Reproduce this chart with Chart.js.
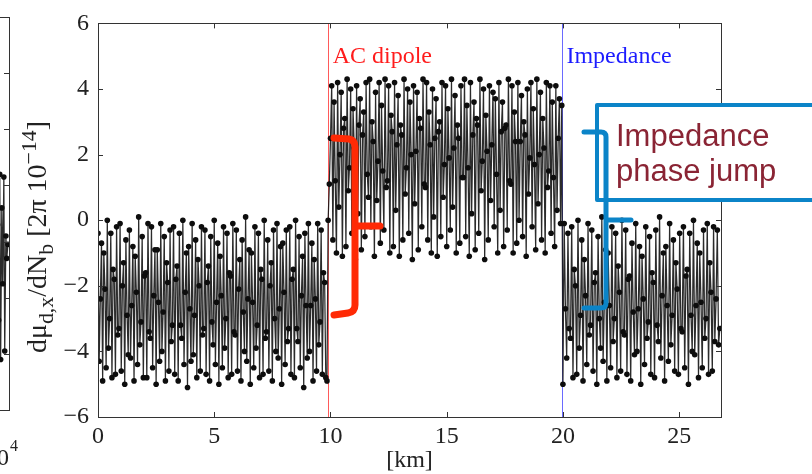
<!DOCTYPE html>
<html>
<head>
<meta charset="utf-8">
<script src="https://cdn.jsdelivr.net/npm/chart.js@4.4.1/dist/chart.umd.min.js"></script>
<style>
  html, body { margin: 0; padding: 0; background: #fff; overflow: hidden; }
  #wrap { position: relative; width: 812px; height: 474px; overflow: hidden; }
  #main { position: absolute; left: 0; top: 0; }
  #side { position: absolute; left: -287px; top: 0; }
</style>
</head>
<body>
<div id="wrap">
  <canvas id="main" width="812" height="474"></canvas>
  <canvas id="side" width="300" height="474"></canvas>
</div>
<script>
// phase advance per bunch intensity, three stretches along the store [km]
const seg1Km = [0, 9.85];
const seg1Y = [
  -0.4, -4.3, -2.4, -0.7, -4.9, -1.0, -2.1, -4.5, 0.0, -3.9, -3.0, -0.4, -4.8, -1.5, -1.8, -4.7, -0.2, -3.5,
  -3.3, -0.1, -4.6, -2.0, -1.3, -5.0, -0.6, -2.9, -4.1, -0.3, -4.2, -2.6, -0.8, -4.9, -1.1, -2.2, -4.4, 0.1,
  -3.8, -3.1, -0.5, -4.8, -1.7, -1.6, -4.8, -0.1, -3.4, -3.6, -0.2, -4.5, -2.3, -0.9, -5.0, -0.9, -2.5, -4.3,
  -0.1, -4.0, -2.8, -0.5, -4.9, -1.3, -1.9, -4.6, -0.3, -3.7, -3.2, -0.2, -4.7, -1.8, -1.4, -4.9, -0.4, -3.2,
  -3.6, 0.0, -4.4, -2.2, -1.0, -5.1, -0.8, -2.7, -4.3, -0.1, -4.1, -2.9, -0.6, -4.8, -1.2, -2.0, -4.6, -0.2,
  -3.5, -3.3, -0.3, -4.7, -1.9, -1.4, -4.9, -0.5, -3.1, -3.8, 0.0, -4.4, -2.5, -0.7, -5.0, -1.1, -2.3, -4.5,
  -0.2, -3.9, -3.0, -0.4, -4.8, -1.6, -1.7, -4.7, -0.1, -3.4, -3.5, -0.3, -4.6, -2.1, -1.2, -4.9, -0.6, -2.8,
  -4.0, 0.1, -4.3, -2.4, -0.9, -5.0, -1.0, -2.5, -4.5, -0.2, -3.9, -3.2, -0.4, -4.8, -1.5, -1.8, -4.7, 0.0,
  -3.6, -3.4, -0.6, -4.6, -2.0, -1.3, -4.9, -0.3, -3.0, -4.0, -0.1, -4.2, -2.7, -0.8, -5.0, -0.7, -2.2, -4.4,
  -0.3, -3.7, -3.3, -0.2, -4.7, -1.8, -1.5, -4.8, 0.0, -3.3, -3.7, -0.5, -4.5, -2.3, -1.1, -5.1, -0.4, -2.6,
  -4.2, -0.1, -4.0, -2.6, -0.7, -4.9, -1.2, -2.4, -4.6, -0.1, -3.8, -3.1, -0.3, -4.7, -1.6, -1.9, -4.8, -4.9
];
const seg2Km = [9.9, 19.95];
const seg2Y = [
  0.0, 1.1, 2.5, 4.1, -0.6, 3.6, 1.2, -1.0, 4.2, 0.4, 2.0, 3.9, -1.1, 2.8, 3.1, -0.8, 4.3, 0.9,
  1.6, 4.0, -0.4, 3.4, 2.2, -1.2, 4.1, 0.2, 2.9, 3.7, -0.9, 2.6, 3.3, -0.5, 4.2, 1.4, 0.7, 4.3,
  -0.2, 3.0, 2.4, -1.1, 3.9, 0.6, 1.8, 4.2, -0.7, 3.5, 1.5, -0.3, 4.3, 1.0, 1.2, 4.1, -1.0, 3.2,
  2.7, -0.8, 4.2, 0.3, 2.3, 3.8, -1.1, 2.9, 2.6, -0.6, 4.3, 0.8, 1.6, 4.0, -0.4, 3.6, 2.0, -1.2,
  4.1, 0.5, 2.1, 3.9, -0.9, 3.1, 2.8, -0.2, 4.3, 1.1, 1.0, 4.2, -0.6, 3.3, 2.3, -1.0, 4.0, 0.1,
  2.5, 3.7, -1.1, 2.7, 3.0, -0.5, 4.2, 0.7, 1.7, 4.1, -0.8, 3.4, 1.9, -0.3, 4.3, 0.4, 2.2, 3.8,
  -1.0, 2.9, 2.5, -0.7, 4.1, 1.3, 1.3, 4.3, -0.5, 3.5, 1.6, -1.1, 4.2, 0.2, 2.6, 3.6, -0.9, 3.1,
  2.9, -0.4, 4.3, 0.9, 1.8, 4.0, -1.2, 3.2, 2.1, -0.6, 4.1, 0.6, 2.3, 3.9, -0.2, 3.7, 1.4, -1.0,
  4.2, 0.3, 2.7, 3.6, -0.8, 2.8, 2.9, -0.3, 4.3, 1.2, 1.1, 4.1, -1.0, 3.3, 2.4, -0.7, 4.2, 0.0,
  2.4, 3.8, -0.5, 3.0, 2.6, -1.1, 4.0, 0.8, 1.9, 4.2, -0.2, 3.4, 1.7, -0.9, 4.3, 0.5, 2.0, 3.9,
  -0.6, 3.1, 2.2, -1.0, 4.2, 1.0, 1.5, 4.1, -0.4, 3.6, 1.3, -0.8, 4.1, 0.3, 2.5, 3.7, -0.1, 3.5
];
const seg3Km = [20.0, 26.75];
const seg3Y = [
  -5.0, -0.1, -2.7, -4.2, -0.4, -3.3, -3.6, -0.2, -4.8, -1.5, -2.0, -4.7, 0.0, -3.9, -2.9, -0.6, -4.9, -1.2,
  -2.3, -4.4, -0.1, -3.5, -3.2, -0.3, -4.6, -1.9, -1.6, -5.0, -0.5, -3.0, -3.9, 0.1, -4.3, -2.5, -0.9, -4.9,
  -1.0, -2.6, -4.5, -0.2, -3.7, -3.0, -0.4, -4.8, -1.4, -2.2, -4.6, 0.0, -3.4, -3.5, -0.3, -4.7, -1.8, -1.7,
  -4.9, -0.7, -2.8, -4.1, -0.1, -4.0, -2.7, -0.8, -5.0, -1.1, -2.4, -4.4, -0.2, -3.6, -3.1, -0.5, -4.7, -1.6,
  -1.9, -4.8, -0.3, -3.2, -3.7, 0.1, -4.2, -2.3, -1.0, -4.9, -0.8, -2.6, -4.3, -0.1, -3.8, -2.9, -0.6, -4.6,
  -1.3, -2.1, -4.7, -0.4, -3.3, -3.4, -0.2, -4.5, -1.7, -1.5, -5.0, -0.4, -2.9, -4.0, 0.0, -4.1, -2.6, -0.7,
  -4.8, -1.0, -2.5, -4.5, -0.3, -3.6, -3.0, -0.1, -4.7, -1.3, -2.2, -4.6, -0.2, -3.7, -2.4, -0.3, -3.8, -3.3
];
const xTicks = [0, 5, 10, 15, 20, 25];
const yTicks = [-6, -4, -2, 0, 2, 4, 6];
const acDipoleKm = 9.88;
const impedanceKm = 19.98;

// right edge of the neighbouring panel (turn number, x10^4)
const sideX = [2.850, 2.862, 2.871, 2.883, 2.893, 2.905, 2.914, 2.926, 2.935, 2.947, 2.956, 2.968, 2.977, 2.989];
const sideY = [-3.6, 1.9, -4.1, 0.6, -2.8, 2.4, -4.2, 1.2, -1.5, 2.3, -3.9, 0.2, -0.6, -0.1];
const sideYTicks = [-6, -4, -2, 0, 2, 4, 6, 8];

function spread(range, ys) {
  const step = (range[1] - range[0]) / (ys.length - 1);
  return ys.map((y, i) => ({ x: range[0] + i * step, y: y }));
}
const points = spread(seg1Km, seg1Y).concat(spread(seg2Km, seg2Y), spread(seg3Km, seg3Y));

const serif = 'Liberation Serif';
Chart.defaults.font.family = serif;

// axes box with inward ticks, matlab style
const framePlugin = {
  id: 'frame',
  afterDatasetsDraw(chart, args, opts) {
    const ctx = chart.ctx, a = chart.chartArea;
    const xs = chart.scales.x, ys = chart.scales.y;
    ctx.save();
    ctx.strokeStyle = '#333';
    ctx.lineWidth = 1;
    ctx.strokeRect(Math.round(a.left) + 0.5, Math.round(a.top) + 0.5,
      Math.round(a.right - a.left), Math.round(a.bottom - a.top));
    const len = 5;
    ctx.beginPath();
    opts.xTicks.forEach(v => {
      const p = Math.round(xs.getPixelForValue(v)) + 0.5;
      ctx.moveTo(p, a.bottom); ctx.lineTo(p, a.bottom - len);
      ctx.moveTo(p, a.top); ctx.lineTo(p, a.top + len);
    });
    opts.yTicks.forEach(v => {
      const p = Math.round(ys.getPixelForValue(v)) + 0.5;
      ctx.moveTo(a.left, p); ctx.lineTo(a.left + len, p);
      ctx.moveTo(a.right, p); ctx.lineTo(a.right - len, p);
    });
    ctx.stroke();
    ctx.restore();
  }
};

function richWidth(ctx, parts, size, small) {
  let w = 0;
  parts.forEach(p => {
    ctx.font = ((p.sub || p.sup) ? size * small : size) + 'px "' + serif + '"';
    w += ctx.measureText(p.t).width;
  });
  return w;
}

const notesPlugin = {
  id: 'notes',
  beforeDatasetsDraw(chart) {
    const ctx = chart.ctx, a = chart.chartArea, xs = chart.scales.x;
    ctx.save();
    ctx.lineWidth = 1;
    let p = Math.round(xs.getPixelForValue(acDipoleKm)) + 0.5;
    ctx.strokeStyle = '#ff5a5a';
    ctx.beginPath(); ctx.moveTo(p, a.top); ctx.lineTo(p, a.bottom); ctx.stroke();
    p = Math.round(xs.getPixelForValue(impedanceKm)) + 0.5;
    ctx.strokeStyle = '#6a6aff';
    ctx.beginPath(); ctx.moveTo(p, a.top); ctx.lineTo(p, a.bottom); ctx.stroke();
    ctx.restore();
  },
  afterDraw(chart) {
    const ctx = chart.ctx, a = chart.chartArea, xs = chart.scales.x;
    const f = s => s + 'px "' + serif + '"';
    ctx.save();
    // line labels
    ctx.font = f(24);
    ctx.textBaseline = 'alphabetic';
    ctx.fillStyle = '#ff1c1c';
    ctx.fillText('AC dipole', xs.getPixelForValue(acDipoleKm) + 5, 63);
    ctx.fillStyle = '#1c1cff';
    ctx.fillText('Impedance', xs.getPixelForValue(impedanceKm) + 4, 63);

    // x title
    ctx.fillStyle = '#222';
    ctx.textAlign = 'center';
    ctx.fillText('[km]', (a.left + a.right) / 2, 467);

    // y title, rotated, with sub/superscripts
    const parts = [
      { t: 'dμ' }, { t: 'd,x', sub: true }, { t: '/dN' }, { t: 'b', sub: true },
      { t: ' [2π 10' }, { t: '−14', sup: true }, { t: ']' }
    ];
    const size = 28, small = 0.78;
    const total = richWidth(ctx, parts, size, small);
    ctx.save();
    ctx.translate(46, 237 + total / 2);
    ctx.rotate(-Math.PI / 2);
    ctx.textAlign = 'left';
    let cx = 0;
    parts.forEach(q => {
      ctx.font = f((q.sub || q.sup) ? size * small : size);
      const dy = q.sub ? size * 0.24 : (q.sup ? -size * 0.36 : 0);
      ctx.fillText(q.t, cx, dy);
      cx += ctx.measureText(q.t).width;
    });
    ctx.restore();

    // exponent of the neighbouring panel's x axis
    ctx.textAlign = 'right';
    ctx.font = f(24);
    ctx.fillText('10', 9, 465);
    ctx.textAlign = 'left';
    ctx.font = f(16);
    ctx.fillText('4', 10, 451);

    // red bracket
    ctx.lineCap = 'round';
    ctx.lineJoin = 'round';
    ctx.strokeStyle = '#ff2a05';
    ctx.lineWidth = 7;
    ctx.beginPath();
    ctx.moveTo(334, 138);
    ctx.lineTo(349, 139);
    ctx.quadraticCurveTo(355, 140, 355, 147);
    ctx.lineTo(355, 305);
    ctx.quadraticCurveTo(355, 312, 348, 313);
    ctx.lineTo(334, 315);
    ctx.moveTo(355, 226);
    ctx.lineTo(380, 226);
    ctx.stroke();

    // callout box
    ctx.lineCap = 'butt';
    ctx.strokeStyle = '#0b84c8';
    ctx.lineWidth = 4;
    ctx.fillStyle = '#fff';
    ctx.fillRect(597, 105, 240, 95);
    ctx.strokeRect(597, 105, 240, 95);

    // blue bracket
    ctx.lineCap = 'round';
    ctx.lineWidth = 5;
    ctx.beginPath();
    ctx.moveTo(584, 132);
    ctx.lineTo(601, 132);
    ctx.quadraticCurveTo(606, 132, 606, 137);
    ctx.lineTo(606, 303);
    ctx.quadraticCurveTo(606, 308, 601, 308);
    ctx.lineTo(584, 308);
    ctx.moveTo(606, 220);
    ctx.lineTo(631, 220);
    ctx.stroke();

    ctx.fillStyle = '#8a2434';
    ctx.font = '31px "Liberation Sans", Arial, sans-serif';
    ctx.textAlign = 'left';
    ctx.fillText('Impedance', 616, 146);
    ctx.fillText('phase jump', 616, 181);
    ctx.restore();
  }
};

new Chart(document.getElementById('main').getContext('2d'), {
  type: 'line',
  data: {
    datasets: [{
      data: points,
      borderColor: 'rgba(20,20,20,0.9)',
      borderWidth: 1.25,
      pointRadius: 2.8,
      pointBackgroundColor: '#0d0d0d',
      pointBorderWidth: 0,
      tension: 0
    }]
  },
  options: {
    responsive: false,
    animation: false,
    events: [],
    layout: { padding: { top: 16, right: 91, bottom: 0, left: 0 } },
    plugins: {
      legend: { display: false },
      tooltip: { enabled: false },
      frame: { xTicks: xTicks, yTicks: yTicks }
    },
    scales: {
      x: {
        type: 'linear', min: 0, max: 26.8,
        grid: { display: false, drawTicks: false },
        border: { display: false },
        afterBuildTicks: s => { s.ticks = xTicks.map(v => ({ value: v })); },
        afterFit: s => { s.height = 57; },
        ticks: { font: { family: serif, size: 24 }, color: '#222', padding: 5, maxRotation: 0 }
      },
      y: {
        type: 'linear', min: -6, max: 6,
        grid: { display: false, drawTicks: false },
        border: { display: false },
        afterBuildTicks: s => { s.ticks = yTicks.map(v => ({ value: v })); },
        afterFit: s => { s.width = 98; },
        ticks: {
          font: { family: serif, size: 24 }, color: '#222', padding: 9,
          callback: v => String(v).replace('-', '\u2212')
        }
      }
    }
  },
  plugins: [framePlugin, notesPlugin]
});

new Chart(document.getElementById('side').getContext('2d'), {
  type: 'line',
  data: {
    datasets: [{
      data: sideX.map((x, i) => ({ x: x, y: sideY[i] })),
      borderColor: 'rgba(20,20,20,0.9)',
      borderWidth: 1.25,
      pointRadius: 2.8,
      pointBackgroundColor: '#0d0d0d',
      pointBorderWidth: 0
    }]
  },
  options: {
    responsive: false,
    animation: false,
    events: [],
    layout: { padding: { top: 17, right: 1, bottom: 64, left: 0 } },
    plugins: {
      legend: { display: false },
      tooltip: { enabled: false },
      frame: { xTicks: [0, 1, 2], yTicks: sideYTicks }
    },
    scales: {
      x: { type: 'linear', min: 0, max: 3, display: false },
      y: { type: 'linear', min: -6, max: 8, display: false }
    }
  },
  plugins: [framePlugin]
});
</script>
</body>
</html>
